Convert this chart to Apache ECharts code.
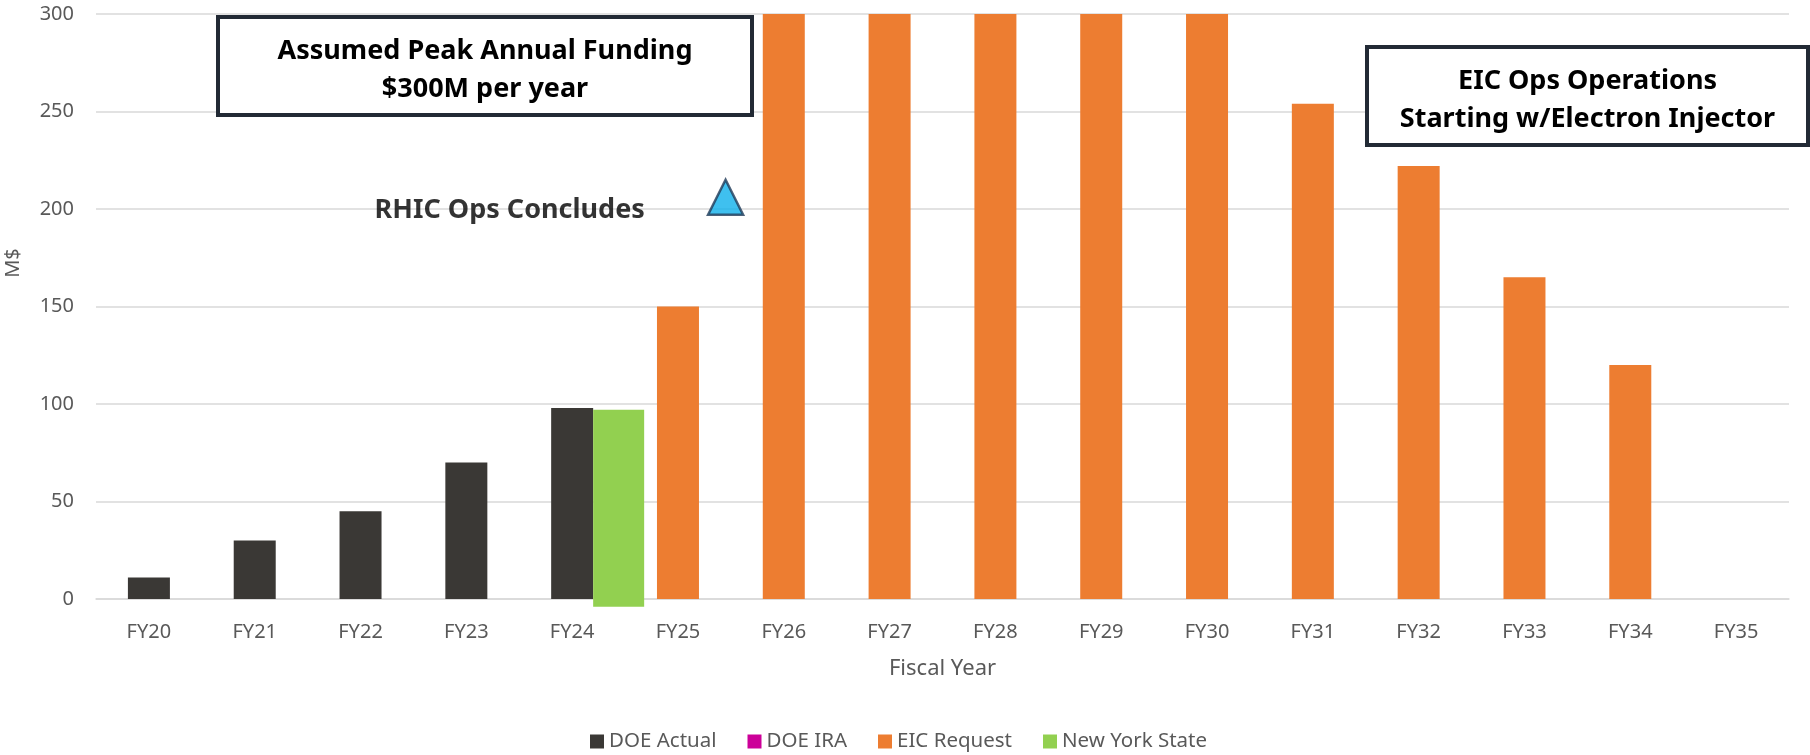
<!DOCTYPE html>
<html>
<head>
<meta charset="utf-8">
<title>EIC Funding Profile</title>
<script src="https://cdn.jsdelivr.net/npm/echarts@6/dist/echarts.min.js"></script>
<style>
  html, body { margin: 0; padding: 0; background: #ffffff; }
  #chart { width: 1810px; height: 755px; }
</style>
</head>
<body>
<div id="chart"></div>
<script>
// Fiscal years on the category axis
const categories = ['FY20', 'FY21', 'FY22', 'FY23', 'FY24', 'FY25', 'FY26', 'FY27',
                    'FY28', 'FY29', 'FY30', 'FY31', 'FY32', 'FY33', 'FY34', 'FY35'];

// Funding by source, M$
const doeActual   = [11, 30, 45, 70, 98, null, null, null, null, null, null, null, null, null, null, null];
const doeIRA      = [null, null, null, null, null, null, null, null, null, null, null, null, null, null, null, null];
const eicRequest  = [null, null, null, null, null, 150, 300, 300, 300, 300, 300, 254, 222, 165, 120, null];
const newYorkState = [null, null, null, null, 97, null, null, null, null, null, null, null, null, null, null, null];
const newYorkStateBelow = [null, null, null, null, -4, null, null, null, null, null, null, null, null, null, null, null];

// Value axis ticks
const yMin = 0, yMax = 300, yStep = 50;

// Milestone marker: position in category units (FY20 = 0) and M$ height
const rhicMilestone = [[5.45, 206]];

const axisGrey = '#595959';
const gridGrey = '#d9d9d9';
const boxStroke = '#222a35';
const labelFont = '"Noto Sans", "Open Sans", sans-serif';

const chart = echarts.init(document.getElementById('chart'), null, { renderer: 'canvas' });

function annotationBox(x, y, w, h, lines) {
  const cx = x + w / 2;
  return {
    type: 'group',
    children: [
      {
        type: 'rect',
        shape: { x: x + 2, y: y + 2, width: w - 4, height: h - 4 },
        style: { fill: '#ffffff', stroke: boxStroke, lineWidth: 4 },
        z: 10
      },
      {
        type: 'text',
        x: cx, y: y + 36,
        style: {
          text: lines[0], fill: '#000000', font: 'bold 27px ' + labelFont,
          textAlign: 'center', textVerticalAlign: 'middle'
        },
        z: 11
      },
      {
        type: 'text',
        x: cx, y: y + 74,
        style: {
          text: lines[1], fill: '#000000', font: 'bold 27px ' + labelFont,
          textAlign: 'center', textVerticalAlign: 'middle'
        },
        z: 11
      }
    ]
  };
}

const option = {
  animation: false,
  backgroundColor: '#ffffff',
  grid: { left: 96, right: 21, top: 14, bottom: 156, containLabel: false },
  legend: {
    data: ['DOE Actual', 'DOE IRA', 'EIC Request', 'New York State'],
    left: 585,
    top: 726,
    icon: 'rect',
    itemWidth: 14,
    itemHeight: 14,
    itemGap: 31,
    textStyle: { color: axisGrey, fontSize: 20.5, fontFamily: labelFont }
  },
  xAxis: [
    {
      type: 'category',
      data: categories,
      boundaryGap: true,
      name: 'Fiscal Year',
      nameLocation: 'middle',
      nameGap: 59,
      nameTextStyle: { color: axisGrey, fontSize: 22, fontFamily: labelFont },
      axisLine: { show: true, lineStyle: { color: gridGrey, width: 1.5 } },
      axisTick: { show: false },
      axisLabel: { color: axisGrey, fontSize: 20, fontFamily: labelFont, margin: 23 }
    },
    {
      type: 'value',
      min: -0.5,
      max: categories.length - 0.5,
      show: false
    }
  ],
  yAxis: {
    type: 'value',
    min: yMin,
    max: yMax,
    interval: yStep,
    axisLine: { show: false },
    axisTick: { show: false },
    axisLabel: { color: axisGrey, fontSize: 20, fontFamily: labelFont, margin: 22 },
    splitLine: { lineStyle: { color: gridGrey, width: 1.5 } }
  },
  graphic: [
    {
      type: 'text',
      x: 13, y: 263,
      rotation: Math.PI / 2,
      style: {
        text: 'M$', fill: axisGrey, font: '20px ' + labelFont,
        textAlign: 'center', textVerticalAlign: 'middle'
      }
    },
    annotationBox(216, 15, 538, 102, ['Assumed Peak Annual Funding', '$300M per year']),
    annotationBox(1365, 45, 445, 102, ['EIC Ops Operations', 'Starting w/Electron Injector'])
  ],
  series: [
    {
      // empty slot on the left so the main stack sits centred on each year
      name: 'slot',
      type: 'bar',
      stack: 'slot',
      barWidth: 51,
      barGap: '0%',
      data: categories.map(() => null),
      silent: true
    },
    {
      name: 'DOE Actual',
      type: 'bar',
      stack: 'main',
      barWidth: 42,
      barGap: '0%',
      itemStyle: { color: '#3a3835' },
      data: doeActual
    },
    {
      name: 'DOE IRA',
      type: 'bar',
      stack: 'main',
      barWidth: 42,
      barGap: '0%',
      itemStyle: { color: '#cc0099' },
      data: doeIRA
    },
    {
      name: 'EIC Request',
      type: 'bar',
      stack: 'main',
      barWidth: 42,
      barGap: '0%',
      itemStyle: { color: '#ed7d31' },
      data: eicRequest
    },
    {
      name: 'New York State',
      type: 'bar',
      stack: 'nys',
      barWidth: 51,
      barGap: '0%',
      clip: false,
      itemStyle: { color: '#92d050' },
      data: newYorkState
    },
    {
      name: 'New York State',
      type: 'bar',
      stack: 'nys',
      barWidth: 51,
      barGap: '0%',
      clip: false,
      itemStyle: { color: '#92d050' },
      data: newYorkStateBelow
    },
    {
      name: 'RHIC Ops Concludes',
      type: 'scatter',
      xAxisIndex: 1,
      symbol: 'triangle',
      symbolSize: [35, 35],
      itemStyle: { color: '#0fb0eb', borderColor: '#1f3a57', borderWidth: 2.5 },
      label: {
        show: true,
        position: 'left',
        distance: 62,
        offset: [0, 13],
        formatter: 'RHIC Ops Concludes',
        color: '#000000',
        fontSize: 27,
        fontWeight: 'bold',
        fontFamily: labelFont
      },
      data: rhicMilestone,
      z: 5
    }
  ]
};

chart.setOption(option);
</script>
</body>
</html>
